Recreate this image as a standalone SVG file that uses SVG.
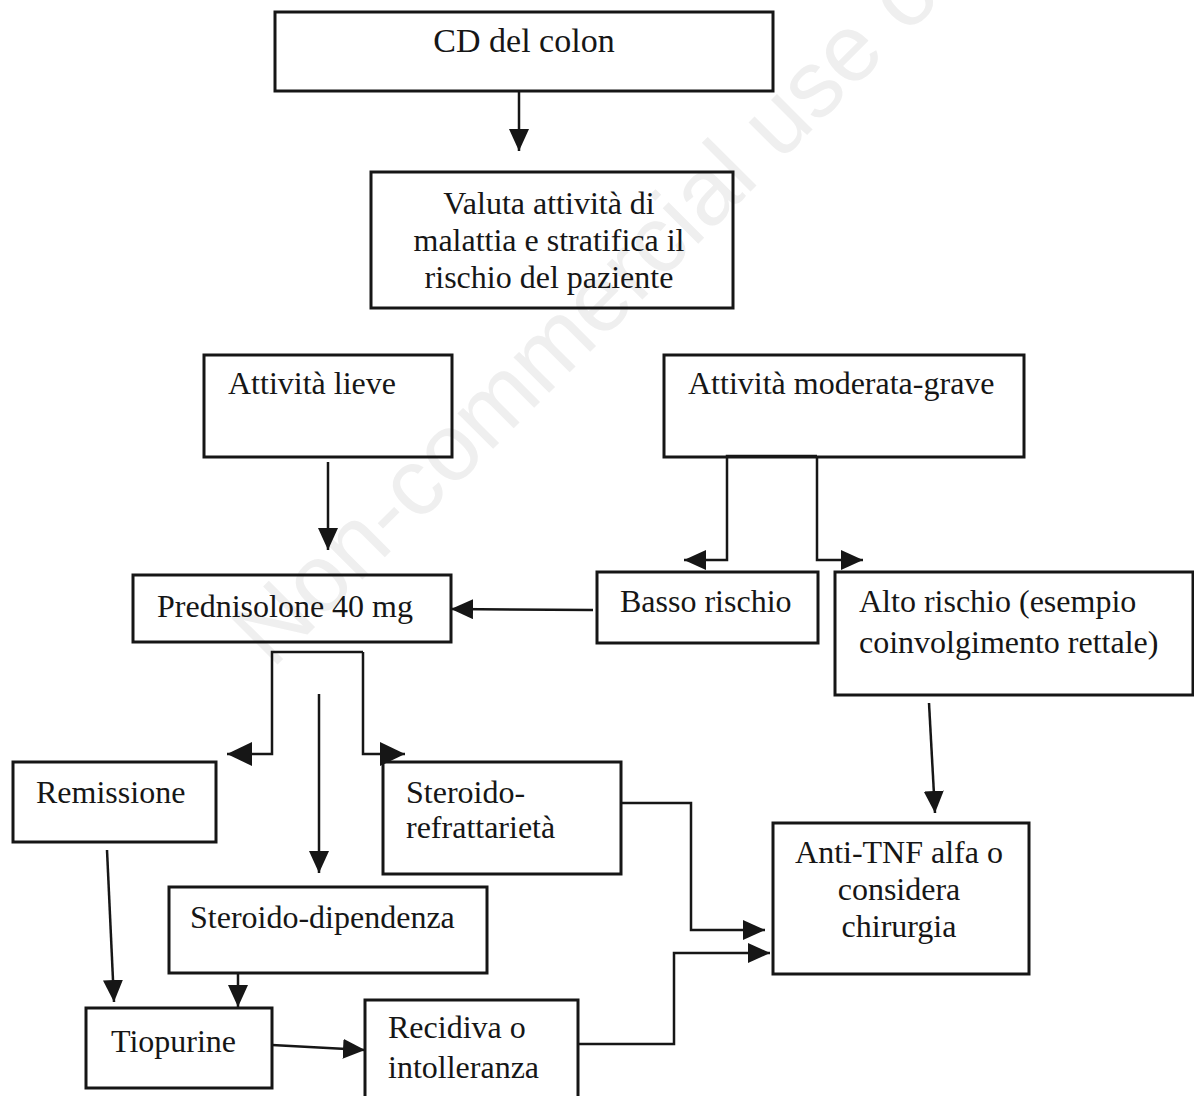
<svg xmlns="http://www.w3.org/2000/svg" width="1194" height="1096" viewBox="0 0 1194 1096">
  <style>
    .box { fill: none; stroke: #161616; stroke-width: 3; }
    .lbl { font-family: "Liberation Serif", "Times New Roman", serif; font-size: 32px; fill: #161616; }
    .mid { text-anchor: middle; }
    .wire { fill: none; stroke: #161616; stroke-width: 2.5; }
    .mark { font-family: "Liberation Sans", Arial, sans-serif; font-size: 95px; fill: #efefef; }
  </style>
  <defs>
    <marker id="head" markerUnits="userSpaceOnUse" markerWidth="22" markerHeight="20" refX="22" refY="10" orient="auto" viewBox="0 0 22 20">
      <path d="M0,0 L22,10 L0,20 z" fill="#161616"/>
    </marker>
    <marker id="head-lg" markerUnits="userSpaceOnUse" markerWidth="25" markerHeight="24" refX="25" refY="12" orient="auto" viewBox="0 0 25 24">
      <path d="M0,0 L25,12 L0,24 z" fill="#161616"/>
    </marker>
  </defs>

  <rect width="1194" height="1096" fill="#ffffff"/>

  <!-- background watermark -->
  <text class="mark" x="272" y="670" transform="rotate(-45 272 670)">Non-commercial use only</text>

  <!-- connectors -->
  <g id="connectors">
    <path class="wire" d="M519,91 V151" marker-end="url(#head)"/>
    <path class="wire" d="M328,462 V550" marker-end="url(#head)"/>
    <path class="wire" d="M817,456 H727 V560 H684" marker-end="url(#head)"/>
    <path class="wire" d="M817,456 V560 H863" marker-end="url(#head)"/>
    <path class="wire" d="M593,610 L451,609" marker-end="url(#head)"/>
    <path class="wire" d="M363,652 H272 V754 H227" marker-end="url(#head-lg)"/>
    <path class="wire" d="M363,652 V754 H405" marker-end="url(#head-lg)"/>
    <path class="wire" d="M319,694 V873" marker-end="url(#head)"/>
    <path class="wire" d="M929,703 L935,813" marker-end="url(#head)"/>
    <path class="wire" d="M621,803 H691 V930 H765" marker-end="url(#head)"/>
    <path class="wire" d="M578,1044 H674 V953 H770" marker-end="url(#head)"/>
    <path class="wire" d="M107,850 L114,1002" marker-end="url(#head)"/>
    <path class="wire" d="M238,973 V1007" marker-end="url(#head)"/>
    <path class="wire" d="M272,1045 L365,1050" marker-end="url(#head)"/>
  </g>

  <!-- nodes -->
  <g id="cd-colon">
    <rect class="box" x="275" y="12" width="498" height="79"/>
    <text class="lbl mid" x="524" y="52" style="font-size:34px">CD del colon</text>
  </g>
  <g id="valuta">
    <rect class="box" x="371" y="172" width="362" height="136"/>
    <text class="lbl mid" x="549" y="214">Valuta attività di</text>
    <text class="lbl mid" x="549" y="251">malattia e stratifica il</text>
    <text class="lbl mid" x="549" y="288">rischio del paziente</text>
  </g>
  <g id="attivita-lieve">
    <rect class="box" x="204" y="355" width="248" height="102"/>
    <text class="lbl" x="228" y="394">Attività lieve</text>
  </g>
  <g id="attivita-moderata">
    <rect class="box" x="664" y="355" width="360" height="102"/>
    <text class="lbl" x="688" y="394">Attività moderata-grave</text>
  </g>
  <g id="prednisolone">
    <rect class="box" x="133" y="575" width="318" height="67"/>
    <text class="lbl" x="157" y="617">Prednisolone 40 mg</text>
  </g>
  <g id="basso-rischio">
    <rect class="box" x="597" y="572" width="221" height="71"/>
    <text class="lbl" x="620" y="612">Basso rischio</text>
  </g>
  <g id="alto-rischio">
    <rect class="box" x="835" y="572" width="358" height="123"/>
    <text class="lbl" x="859" y="612">Alto rischio (esempio</text>
    <text class="lbl" x="859" y="653">coinvolgimento rettale)</text>
  </g>
  <g id="remissione">
    <rect class="box" x="13" y="762" width="203" height="80"/>
    <text class="lbl" x="36" y="803">Remissione</text>
  </g>
  <g id="steroido-refrattarieta">
    <rect class="box" x="383" y="762" width="238" height="112"/>
    <text class="lbl" x="406" y="803">Steroido-</text>
    <text class="lbl" x="406" y="838">refrattarietà</text>
  </g>
  <g id="steroido-dipendenza">
    <rect class="box" x="169" y="887" width="318" height="86"/>
    <text class="lbl" x="190" y="928">Steroido-dipendenza</text>
  </g>
  <g id="anti-tnf">
    <rect class="box" x="773" y="823" width="256" height="151"/>
    <text class="lbl mid" x="899" y="863">Anti-TNF alfa o</text>
    <text class="lbl mid" x="899" y="900">considera</text>
    <text class="lbl mid" x="899" y="937">chirurgia</text>
  </g>
  <g id="tiopurine">
    <rect class="box" x="86" y="1008" width="186" height="80"/>
    <text class="lbl" x="111" y="1052">Tiopurine</text>
  </g>
  <g id="recidiva">
    <rect class="box" x="365" y="1000" width="213" height="110"/>
    <text class="lbl" x="388" y="1038">Recidiva o</text>
    <text class="lbl" x="388" y="1078">intolleranza</text>
  </g>
</svg>
